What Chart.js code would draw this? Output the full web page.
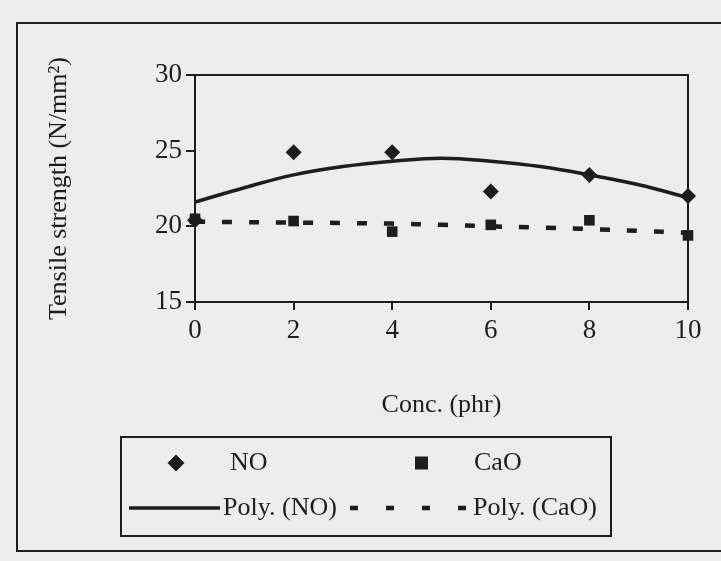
<!DOCTYPE html>
<html>
<head>
<meta charset="utf-8">
<script src="https://cdn.jsdelivr.net/npm/chart.js@4"></script>
<style>
  html, body { margin: 0; padding: 0; background: #ededed; }
  #wrap { width: 721px; height: 561px; }
</style>
</head>
<body>
<div id="wrap"><canvas id="grafica" width="721" height="561"></canvas></div>
<script>
// Datos
const conc = [0, 2, 4, 6, 8, 10];
const noStrength = [20.4, 24.9, 24.9, 22.3, 23.4, 22.0];
const caoStrength = [20.5, 20.35, 19.65, 20.1, 20.4, 19.4];

// trend lines, one value per phr
const trendConc = [0, 1, 2, 3, 4, 5, 6, 7, 8, 9, 10];
const noTrend = [21.6, 22.55, 23.4, 23.95, 24.3, 24.5, 24.3, 23.95, 23.4, 22.75, 21.9];
const caoTrend = [20.3, 20.28, 20.25, 20.22, 20.18, 20.1, 20.0, 19.92, 19.82, 19.7, 19.57];

const xTicks = [0, 2, 4, 6, 8, 10];
const yTicks = [15, 20, 25, 30];

const tinta = "#1d1d1d";
const serif = "'Liberation Serif', 'DejaVu Serif', serif";

function puntos(xs, ys) {
  return xs.map((x, i) => ({ x: x, y: ys[i] }));
}

/* marco, caja del gráfico y leyenda */
const marco = {
  id: "marco",
  beforeDraw(chart) {
    const c = chart.ctx;
    c.save();
    c.fillStyle = "#ededed";
    c.fillRect(0, 0, chart.width, chart.height);
    c.strokeStyle = tinta;
    c.lineWidth = 2;
    c.strokeRect(17, 23, 740, 528);
    c.restore();
  },
  afterDraw(chart) {
    const c = chart.ctx;
    const a = chart.chartArea;
    c.save();
    c.strokeStyle = tinta;
    c.lineWidth = 2;
    c.strokeRect(a.left, a.top, a.right - a.left, a.bottom - a.top);

    // leyenda
    c.strokeRect(121, 437, 490, 99);
    const ds = chart.data.datasets;
    c.fillStyle = tinta;
    c.font = "26px " + serif;
    c.textBaseline = "middle";
    c.textAlign = "left";

    const fila1 = 463, fila2 = 508;

    // NO
    c.beginPath();
    c.moveTo(176, fila1 - 8.5);
    c.lineTo(184.5, fila1);
    c.lineTo(176, fila1 + 8.5);
    c.lineTo(167.5, fila1);
    c.closePath();
    c.fill();
    c.fillText(ds[0].label, 230, fila1);

    // CaO
    c.fillRect(415, fila1 - 6.5, 13, 13);
    c.fillText(ds[1].label, 474, fila1);

    // Poly. (NO)
    c.lineWidth = ds[2].borderWidth;
    c.beginPath();
    c.moveTo(129, fila2);
    c.lineTo(220, fila2);
    c.stroke();
    c.fillText(ds[2].label, 223, fila2);

    // Poly. (CaO)
    c.lineWidth = ds[3].borderWidth;
    c.setLineDash([8, 28]);
    c.beginPath();
    c.moveTo(350, fila2);
    c.lineTo(466, fila2);
    c.stroke();
    c.setLineDash([]);
    c.fillText(ds[3].label, 473, fila2);

    c.restore();
  }
};

const ctx = document.getElementById("grafica");

new Chart(ctx, {
  type: "scatter",
  data: {
    datasets: [
      {
        label: "NO",
        data: puntos(conc, noStrength),
        pointStyle: "rectRot",
        pointRadius: 8,
        backgroundColor: tinta,
        borderColor: tinta,
        borderWidth: 0,
        clip: false,
        order: 0
      },
      {
        label: "CaO",
        data: puntos(conc, caoStrength),
        pointStyle: "rect",
        pointRadius: 7.5,
        backgroundColor: tinta,
        borderColor: tinta,
        borderWidth: 0,
        clip: false,
        order: 0.5
      },
      {
        label: "Poly. (NO)",
        data: puntos(trendConc, noTrend),
        showLine: true,
        pointRadius: 0,
        borderColor: tinta,
        borderWidth: 3.5,
        tension: 0.4,
        clip: false,
        order: 1
      },
      {
        label: "Poly. (CaO)",
        data: puntos(trendConc, caoTrend),
        showLine: true,
        pointRadius: 0,
        borderColor: tinta,
        borderWidth: 4.5,
        borderDash: [10, 17],
        tension: 0.4,
        clip: false,
        order: 1
      }
    ]
  },
  options: {
    responsive: false,
    animation: false,
    layout: {
      padding: { left: 0, top: 75, right: 33, bottom: 140 }
    },
    plugins: {
      legend: { display: false },
      tooltip: { enabled: false }
    },
    scales: {
      x: {
        type: "linear",
        min: 0,
        max: 10,
        afterFit: s => { s.height = 119; },
        afterBuildTicks: s => { s.ticks = xTicks.map(v => ({ value: v })); },
        border: { display: true, color: tinta, width: 2 },
        grid: { drawOnChartArea: false, color: tinta, lineWidth: 2, tickLength: 8 },
        ticks: { color: tinta, padding: 5, font: { family: serif, size: 27 } },
        title: {
          display: true,
          text: "Conc. (phr)",
          color: tinta,
          padding: { top: 0, bottom: 0 },
          font: { family: serif, size: 26 }
        }
      },
      y: {
        min: 15,
        max: 30,
        afterFit: s => { s.width = 195; },
        afterBuildTicks: s => { s.ticks = yTicks.map(v => ({ value: v })); },
        border: { display: true, color: tinta, width: 2 },
        grid: { drawOnChartArea: false, color: tinta, lineWidth: 2, tickLength: 9 },
        ticks: { color: tinta, padding: 4, font: { family: serif, size: 27 } },
        title: {
          display: true,
          text: "Tensile strength (N/mm²)",
          color: tinta,
          padding: { top: 44, bottom: 0 },
          font: { family: serif, size: 26 }
        }
      }
    }
  },
  plugins: [marco]
});
</script>
</body>
</html>
